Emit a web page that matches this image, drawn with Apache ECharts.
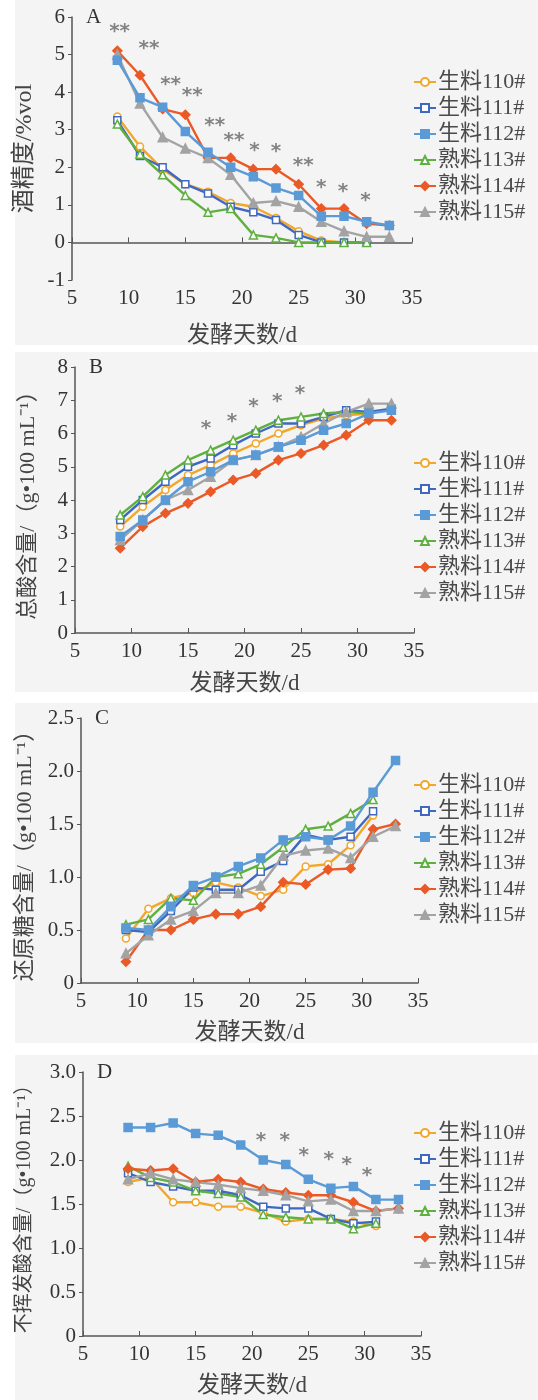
<!DOCTYPE html>
<html><head><meta charset="utf-8">
<script src="https://cdn.jsdelivr.net/npm/echarts@6/dist/echarts.min.js"></script>
<style>html,body{margin:0;padding:0;background:#fff}#c{width:538px;height:1400px}</style>
</head><body><div id="c"></div>
<script>
const days = [9,11,13,15,17,19,21,23,25,27,29,31,33];
const names = ['生料110#','生料111#','生料112#','熟料113#','熟料114#','熟料115#'];
const panelLetters = ['A','B','C','D'];
const yNames = ['酒精度/%vol','总酸含量/（g•100 mL⁻¹）','还原糖含量/（g•100 mL⁻¹）','不挥发酸含量/（g•100 mL⁻¹）'];
const xName = '发酵天数/d';

// Panel A: alcohol
const A110 = [3.35,2.55,1.95,1.55,1.35,1.05,0.95,0.65,0.3,0.05,0,0];
const A111 = [3.25,2.3,2.0,1.55,1.3,0.95,0.8,0.6,0.2,0,0,0];
const A112 = [4.85,3.85,3.6,2.95,2.4,2.0,1.75,1.45,1.25,0.7,0.7,0.55,0.45];
const A113 = [3.15,2.35,1.8,1.25,0.8,0.9,0.2,0.12,0,0,0,0];
const A114 = [5.1,4.45,3.55,3.4,2.25,2.25,1.95,1.95,1.55,0.9,0.9,0.5,0.45];
const A115 = [5.0,3.7,2.8,2.5,2.25,1.8,1.05,1.1,0.95,0.55,0.3,0.15,0.15];
const sigA_x = [9.2,11.8,13.7,15.6,17.6,19.3,21.1,23.0,25.4,27.0,28.9,30.9];
const sigA_y = [5.6,5.15,4.2,3.9,3.1,2.7,2.45,2.4,2.05,1.45,1.35,1.1];
const sigA_t = ['**','**','**','**','**','**','*','*','**','*','*','*'];

// Panel B: total acid
const B110 = [3.2,3.8,4.3,4.75,5.05,5.4,5.7,6.0,6.25,6.45,6.55,6.6];
const B111 = [3.4,4.0,4.55,5.0,5.25,5.65,6.0,6.3,6.3,6.5,6.7,6.65,6.75];
const B112 = [2.9,3.4,4.0,4.55,4.85,5.2,5.35,5.6,5.8,6.1,6.3,6.6,6.7];
const B113 = [3.55,4.1,4.75,5.2,5.5,5.8,6.1,6.4,6.5,6.6,6.65,6.6];
const B114 = [2.55,3.2,3.6,3.9,4.25,4.6,4.8,5.2,5.4,5.65,5.95,6.4,6.4];
const B115 = [2.8,3.4,4.0,4.3,4.7,5.2,5.35,5.6,5.9,6.3,6.65,6.9,6.9];
const sigB_x = [16.6,18.9,20.8,22.9,24.9];
const sigB_y = [6.15,6.35,6.8,6.95,7.2];
const sigB_t = ['*','*','*','*','*'];

// Panel C: reducing sugar
const C110 = [0.42,0.7,0.8,0.85,0.95,0.9,0.82,0.88,1.1,1.12,1.3,1.58];
const C111 = [0.5,0.48,0.68,0.9,0.88,0.88,1.05,1.15,1.4,1.35,1.38,1.62];
const C112 = [0.52,0.5,0.72,0.92,1.0,1.1,1.18,1.35,1.38,1.35,1.48,1.8,2.1];
const C113 = [0.55,0.6,0.8,0.78,1.0,1.03,1.12,1.28,1.45,1.48,1.6,1.73];
const C114 = [0.2,0.5,0.5,0.6,0.65,0.65,0.72,0.95,0.93,1.07,1.08,1.45,1.5];
const C115 = [0.28,0.45,0.6,0.68,0.85,0.85,0.92,1.2,1.25,1.27,1.18,1.38,1.48];

// Panel D: non-volatile acid
const D110 = [1.75,1.8,1.52,1.52,1.47,1.47,1.4,1.3,1.33,1.33,1.3,1.25];
const D111 = [1.85,1.75,1.7,1.65,1.65,1.6,1.47,1.45,1.45,1.33,1.28,1.3];
const D112 = [2.37,2.37,2.42,2.3,2.28,2.17,2.0,1.95,1.78,1.68,1.7,1.55,1.55];
const D113 = [1.93,1.8,1.75,1.65,1.62,1.58,1.38,1.35,1.33,1.33,1.22,1.28];
const D114 = [1.9,1.88,1.9,1.75,1.78,1.75,1.67,1.63,1.6,1.6,1.52,1.42,1.45];
const D115 = [1.78,1.85,1.78,1.75,1.72,1.68,1.65,1.6,1.53,1.55,1.42,1.42,1.45];
const sigD_x = [20.8,22.9,24.6,26.8,28.4,30.2];
const sigD_y = [2.22,2.22,2.05,2.0,1.95,1.82];
const sigD_t = ['*','*','*','*','*','*'];

const panels = [
  {vals:[A110,A111,A112,A113,A114,A115], sx:sigA_x, sy:sigA_y, st:sigA_t, min:-1, max:6, step:1},
  {vals:[B110,B111,B112,B113,B114,B115], sx:sigB_x, sy:sigB_y, st:sigB_t, min:0, max:8, step:1},
  {vals:[C110,C111,C112,C113,C114,C115], sx:[], sy:[], st:[], min:0, max:2.5, step:0.5},
  {vals:[D110,D111,D112,D113,D114,D115], sx:sigD_x, sy:sigD_y, st:sigD_t, min:0, max:3, step:0.5}
];

const FONT = "'Liberation Serif','Noto Sans CJK SC',serif";
const colors = ['#f2a72a','#3f68c0','#5a9ad6','#5fb040','#ea5a27','#a3a3a3'];
const styles = [
  {symbol:'circle', fill:'#fff', size:7},
  {symbol:'rect', fill:'#fff', size:7},
  {symbol:'rect', fill:null, size:8},
  {symbol:'triangle', fill:'#fff', size:8},
  {symbol:'diamond', fill:null, size:9},
  {symbol:'triangle', fill:null, size:9}
];
const grids = [
  {left:72, top:17, width:340, height:263},
  {left:75, top:367, width:339, height:266},
  {left:81, top:718, width:337, height:265},
  {left:83, top:1072, width:338, height:264}
];
const yNameGaps = [32, 36, 45, 48];
const yNameSizes = [24, 22, 22, 20];
const xNameGaps = [44, 39, 38, 38];
const legendTops = [66, 447, 769, 1117];
const bgBoxes = [[15,0,523,345],[15,352,523,340],[15,703,523,340],[15,1055,523,345]];

const option = {
  animation:false,
  textStyle:{fontFamily:FONT},
  grid:grids,
  xAxis:[], yAxis:[], series:[], legend:[],
  graphic:[]
};

bgBoxes.forEach(b=>option.graphic.push({type:'rect', z:-10, shape:{x:b[0],y:b[1],width:b[2],height:b[3]}, style:{fill:'#f4f4f4'}}));

panels.forEach((p,pi)=>{
  option.xAxis.push({
    gridIndex:pi, type:'value', min:5, max:35, interval:5,
    name:xName, nameLocation:'middle', nameGap:xNameGaps[pi],
    nameTextStyle:{fontSize:23, color:'#444', fontFamily:FONT},
    axisLine:{lineStyle:{color:'#555', width:1.5}},
    axisTick:{inside:true, length:5, lineStyle:{color:'#555'}},
    axisLabel:{fontSize:21, color:'#333', margin:8, fontFamily:FONT},
    splitLine:{show:false}
  });
  option.yAxis.push({
    gridIndex:pi, type:'value', min:p.min, max:p.max, interval:p.step,
    name:yNames[pi], nameLocation:'middle', nameGap:yNameGaps[pi],
    nameTextStyle:{fontSize:yNameSizes[pi], color:'#444', fontFamily:FONT},
    axisLine:{show:true, onZero:false, lineStyle:{color:'#555', width:1.5}},
    axisTick:{show:true, length:4, lineStyle:{color:'#555'}},
    axisLabel:{fontSize:21, color:'#333', margin:7, fontFamily:FONT,
      formatter: v => (p.step<1 ? (v===0?'0':v.toFixed(1)) : String(v))},
    splitLine:{show:false}
  });
  p.vals.forEach((vals,si)=>{
    const st = styles[si];
    option.series.push({
      type:'line', name:names[si], xAxisIndex:pi, yAxisIndex:pi,
      data: vals.map((v,i)=>[days[i], v]),
      symbol:st.symbol, symbolSize:st.size, showAllSymbol:true,
      lineStyle:{color:colors[si], width:2.4},
      itemStyle:{color: st.fill || colors[si], borderColor:colors[si], borderWidth:1.5},
      emphasis:{disabled:true}, z: si===2?3:2
    });
  });
  if (p.sx.length) {
    option.series.push({
      type:'scatter', xAxisIndex:pi, yAxisIndex:pi, symbolSize:0, silent:true,
      data: p.sx.map((x,i)=>[x, p.sy[i], p.st[i]]),
      label:{show:true, position:'inside', formatter: q=>q.value[2], color:'#666', fontSize:20, fontWeight:'bold', fontFamily:'DejaVu Sans'}
    });
  }
  option.legend.push({
    data:names, left:408, top:legendTops[pi], orient:'vertical',
    itemWidth:22, itemHeight:10, itemGap:4,
    textStyle:{fontSize:22, color:'#4a4a4a', fontFamily:FONT, padding:[0,0,0,-3]},
    selectedMode:false
  });
  option.graphic.push({type:'text', left:grids[pi].left+14, top:grids[pi].top-10,
    style:{text:panelLetters[pi], font:"21px 'Liberation Serif'", fill:'#333'}});
});

const chart = echarts.init(document.getElementById('c'), null, {renderer:'canvas'});
chart.setOption(option);
</script></body></html>
